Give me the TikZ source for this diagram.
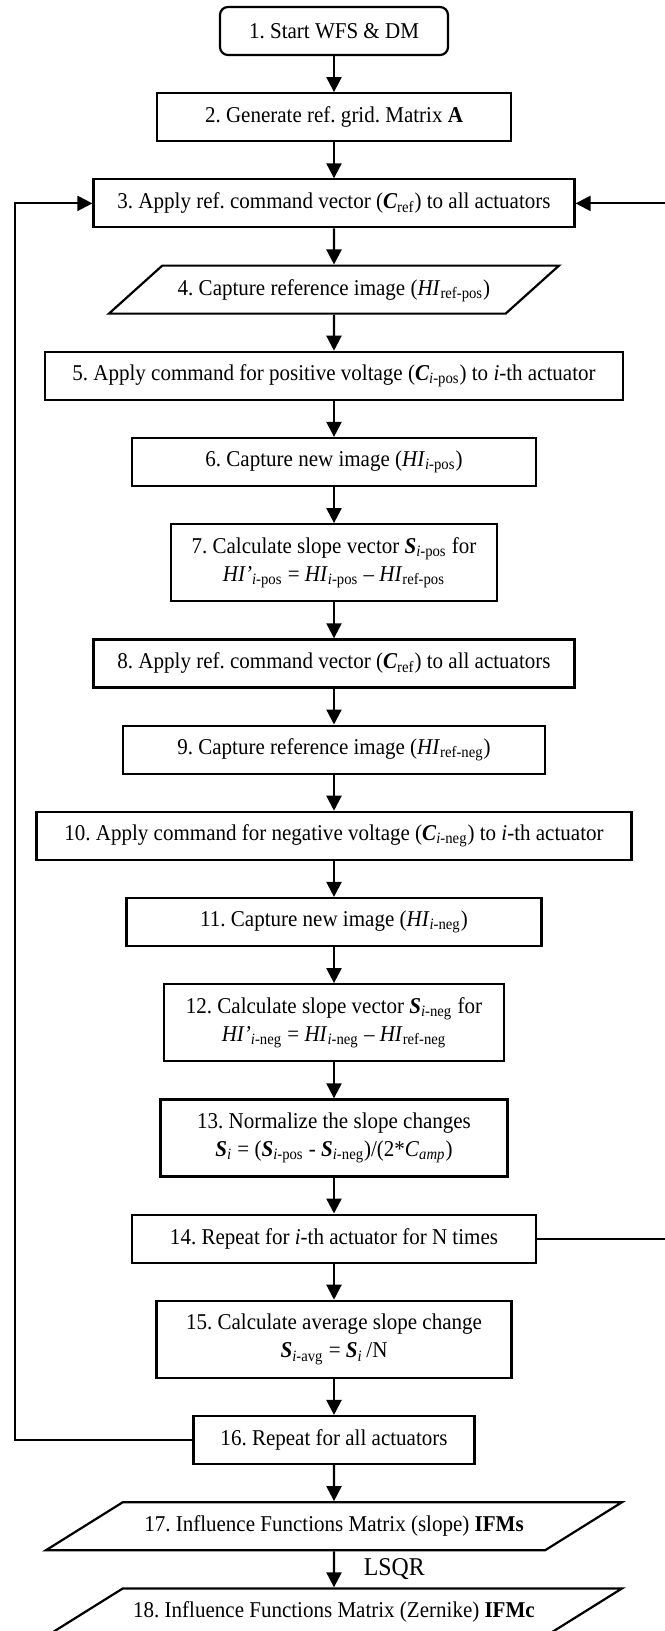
\documentclass[tikz,border=0pt]{standalone}
\usepackage{fontspec}
\setmainfont[FakeStretch=0.93]{Liberation Serif}
\usetikzlibrary{arrows.meta,positioning,shapes.geometric}
\frenchspacing

\newcommand{\bvec}[1]{\textbf{\textit{#1}}}
\newcommand{\ith}{\textit{i}}

\begin{document}
\begin{tikzpicture}[>={Triangle[length=7.5pt,width=7.5pt]},
  font=\fontsize{11.3}{14}\selectfont,
  node distance=18pt,
  proc/.style={draw,line width=1.1pt,minimum height=24pt,align=center,inner sep=3pt},
  twoline/.style={proc,minimum height=38.5pt},
  iobox/.style={trapezium,trapezium stretches body,draw,line width=1.1pt,
    text height=8pt,text depth=2.5pt,inner xsep=3pt,inner ysep=6.75pt},
  flow/.style={->,line width=1.1pt}]
  \useasboundingbox (0,0) rectangle (332pt,-815.5pt);

  \node[proc,rounded corners=4pt,minimum width=114pt] (start) at (167pt,-15.5pt)
    {1. Start WFS \& DM};
  \node[proc,minimum width=177pt,below=of start] (grid)
    {2. Generate ref. grid. Matrix \textbf{A}};
  \node[proc,minimum width=240.5pt,below=of grid] (applyref)
    {3. Apply ref. command vector (\bvec{C}\textsubscript{ref}) to all actuators};
  \node[iobox,trapezium left angle=42,trapezium right angle=138,
    minimum width=225pt,below=of applyref] (capref)
    {4. Capture reference image (\textit{HI}\textsubscript{ref-pos})};
  \node[proc,minimum width=289pt,below=of capref] (applypos)
    {5. Apply command for positive voltage (\bvec{C}\textsubscript{\ith-pos}) to \ith-th actuator};
  \node[proc,minimum width=202pt,below=of applypos] (capnew)
    {6. Capture new image (\textit{HI}\textsubscript{\ith-pos})};
  \node[twoline,minimum width=163pt,below=of capnew] (slopepos)
    {7. Calculate slope vector \bvec{S}\textsubscript{\ith-pos} for\\
     \textit{HI’}\textsubscript{\ith-pos} = \textit{HI}\textsubscript{\ith-pos}
     – \textit{HI}\textsubscript{ref-pos}};
  \node[proc,minimum width=240.5pt,below=of slopepos] (applyrefb)
    {8. Apply ref. command vector (\bvec{C}\textsubscript{ref}) to all actuators};
  \node[proc,minimum width=211pt,below=of applyrefb] (caprefneg)
    {9. Capture reference image (\textit{HI}\textsubscript{ref-neg})};
  \node[proc,minimum width=297.5pt,below=of caprefneg] (applyneg)
    {10. Apply command for negative voltage (\bvec{C}\textsubscript{\ith-neg}) to \ith-th actuator};
  \node[proc,minimum width=207.5pt,below=of applyneg] (capnewneg)
    {11. Capture new image (\textit{HI}\textsubscript{\ith-neg})};
  \node[twoline,minimum width=170pt,below=of capnewneg] (slopeneg)
    {12. Calculate slope vector \bvec{S}\textsubscript{\ith-neg} for\\
     \textit{HI’}\textsubscript{\ith-neg} = \textit{HI}\textsubscript{\ith-neg}
     – \textit{HI}\textsubscript{ref-neg}};
  \node[twoline,minimum width=173.5pt,below=of slopeneg] (normalize)
    {13. Normalize the slope changes\\
     \bvec{S}\textsubscript{\ith} = (\bvec{S}\textsubscript{\ith-pos} -
     \bvec{S}\textsubscript{\ith-neg})/(2*\textit{C}\textsubscript{\textit{amp}})};
  \node[proc,minimum width=202pt,below=of normalize] (repeatn)
    {14. Repeat for \ith-th actuator for N times};
  \node[twoline,minimum width=177.5pt,below=of repeatn] (average)
    {15. Calculate average slope change\\
     \bvec{S}\textsubscript{\ith-avg} = \bvec{S}\textsubscript{\ith}\,/N};
  \node[proc,minimum width=140.5pt,below=of average] (repeatall)
    {16. Repeat for all actuators};
  \node[iobox,trapezium left angle=32,trapezium right angle=148,
    minimum width=288pt,below=of repeatall] (ifms)
    {17. Influence Functions Matrix (slope) \textbf{IFMs}};
  \node[iobox,trapezium left angle=32,trapezium right angle=148,
    minimum width=288pt,below=of ifms] (ifmc)
    {18. Influence Functions Matrix (Zernike) \textbf{IFMc}};

  % main flow
  \foreach \a/\b in {start/grid,grid/applyref,applyref/capref,capref/applypos,
      applypos/capnew,capnew/slopepos,slopepos/applyrefb,applyrefb/caprefneg,
      caprefneg/applyneg,applyneg/capnewneg,capnewneg/slopeneg,slopeneg/normalize,
      normalize/repeatn,repeatn/average,average/repeatall,repeatall/ifms}
    \draw[flow] (\a) -- (\b);
  \draw[flow] (ifms) -- node[right=11pt,font=\fontsize{12.8}{14}\selectfont] {LSQR} (ifmc);

  % loops back to step 3
  \coordinate (lft) at (7.5pt,0);
  \coordinate (rgt) at (334pt,0);
  \draw[flow] (repeatall.west) -- (repeatall.west -| lft) |- (applyref.west);
  \draw[flow] (repeatn.east) -- (repeatn.east -| rgt) |- (applyref.east);
\end{tikzpicture}
\end{document}
